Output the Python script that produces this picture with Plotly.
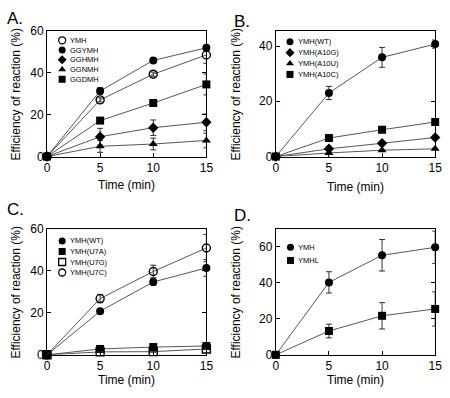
import plotly.graph_objects as go

# ---------------- data ----------------
time = [0, 5, 10, 15]

# Panel A
a_names = ["YMH", "GGYMH", "GGHMH", "GGNMH", "GGDMH"]
a_ymh = [0, 27.1, 39.4, 48.6]
a_ggymh = [0, 31.4, 46.0, 52.0]
a_gghmh = [0, 9.5, 13.8, 16.4]
a_ggnmh = [0, 4.9, 6.0, 7.7]
a_ggdmh = [0, 17.2, 25.6, 34.5]
a_ymh_err = [0, 1.0, 1.0, 4.0]
a_ggymh_err = [0, 1.5, 1.0, 1.0]
a_gghmh_err = [0, 4.0, 3.7, 4.0]
a_ggnmh_err = [0, 2.9, 2.8, 3.5]
a_ggdmh_err = [0, 1.0, 1.0, 5.0]

# Panel B
b_names = ["YMH(WT)", "YMH(A10G)", "YMH(A10U)", "YMH(A10C)"]
b_wt = [0, 23.0, 35.9, 40.7]
b_a10g = [0, 2.8, 4.8, 6.9]
b_a10u = [0, 1.3, 2.3, 2.8]
b_a10c = [0, 6.7, 9.7, 12.5]
b_wt_err = [0, 2.4, 3.6, 1.5]
b_a10g_err = [0, 0.5, 0.5, 0.5]
b_a10u_err = [0, 0.3, 0.3, 0.3]
b_a10c_err = [0, 0.5, 0.5, 0.5]

# Panel C
c_names = ["YMH(WT)", "YMH(U7A)", "YMH(U7G)", "YMH(U7C)"]
c_wt = [0, 20.8, 34.7, 41.4]
c_u7a = [0, 2.8, 3.7, 4.2]
c_u7g = [0, 1.4, 1.5, 2.8]
c_u7c = [0, 26.8, 39.7, 50.9]
c_wt_err = [0, 1.0, 1.5, 4.0]
c_u7a_err = [0, 0.3, 0.3, 0.3]
c_u7g_err = [0, 0.3, 0.3, 0.3]
c_u7c_err = [0, 2.0, 3.0, 6.5]

# Panel D
d_names = ["YMH", "YMHL"]
d_ymh = [0, 40.1, 55.1, 59.5]
d_ymhl = [0, 13.2, 21.6, 25.4]
d_ymh_err = [0, 5.9, 8.7, 9.0]
d_ymhl_err = [0, 3.8, 7.3, 9.5]

x_ticks = [0, 5, 10, 15]
a_yticks = [0, 20, 40, 60]
b_yticks = [0, 20, 40]
c_yticks = [0, 20, 40, 60]
d_yticks = [0, 20, 40, 60]

# ---------------- styling ----------------
FONT = "Liberation Sans, Arial, Helvetica, sans-serif"
LINE_COL = "#444444"
BLACK = "#000000"
W, H = 450, 398

STY = {
    "fc": "circle",
    "oc": "circle-open",
    "dm": "diamond",
    "tr": "triangle-up",
    "sq": "square",
    "os": "square-open",
}

# pixel geometry of each panel box (left, right, top, bottom) and legend layout
panels = [
    dict(key="A", xa="x", ya="y", box=(45, 208, 25, 155),
         yr=[0, 60], yt=a_yticks, label="A.", lx=2, ly=12,
         series=[(a_names[0], a_ymh, a_ymh_err, "oc"),
                 (a_names[1], a_ggymh, a_ggymh_err, "fc"),
                 (a_names[2], a_gghmh, a_gghmh_err, "dm"),
                 (a_names[3], a_ggnmh, a_ggnmh_err, "tr"),
                 (a_names[4], a_ggdmh, a_ggdmh_err, "sq")],
         leg_px=60.5, leg_tx=68, leg_y0=34.5, leg_dy=10.1,
         xt_y=185, yt_x=13),
    dict(key="B", xa="x2", ya="y2", box=(279, 442, 25, 155),
         yr=[0, 45.4], yt=b_yticks, label="B.", lx=234, ly=15,
         series=[(b_names[0], b_wt, b_wt_err, "fc"),
                 (b_names[1], b_a10g, b_a10g_err, "dm"),
                 (b_names[2], b_a10u, b_a10u_err, "tr"),
                 (b_names[3], b_a10c, b_a10c_err, "sq")],
         leg_px=293.5, leg_tx=301, leg_y0=36, leg_dy=11.3,
         xt_y=187, yt_x=238),
    dict(key="C", xa="x3", ya="y3", box=(45, 208, 230, 360.5),
         yr=[0, 60], yt=c_yticks, label="C.", lx=2, ly=210,
         series=[(c_names[0], c_wt, c_wt_err, "fc"),
                 (c_names[1], c_u7a, c_u7a_err, "sq"),
                 (c_names[2], c_u7g, c_u7g_err, "os"),
                 (c_names[3], c_u7c, c_u7c_err, "oc")],
         leg_px=60.5, leg_tx=68, leg_y0=242.5, leg_dy=10.9,
         xt_y=387, yt_x=13),
    dict(key="D", xa="x4", ya="y4", box=(279, 442, 230, 360.5),
         yr=[0, 69.7], yt=d_yticks, label="D.", lx=234, ly=216,
         series=[(d_names[0], d_ymh, d_ymh_err, "fc"),
                 (d_names[1], d_ymhl, d_ymhl_err, "sq")],
         leg_px=294, leg_tx=301, leg_y0=249, leg_dy=13.7,
         xt_y=387, yt_x=238),
]

fig = go.Figure()
annotations = []
layout = {}


def px_x(v):
    return v / W


def px_y(v):
    return 1 - v / H


# legend key positions (pixel layout space)
key_x, key_y, key_sym = [], [], []

for i, p in enumerate(panels):
    suffix = "" if i == 0 else str(i + 1)
    l, r, t, b = p["box"]
    for name, vals, err, st in p["series"]:
        sym = STY[st]
        is_open = "open" in sym
        fig.add_trace(go.Scatter(
            x=time, y=vals, name=name, mode="lines+markers",
            xaxis=p["xa"], yaxis=p["ya"], showlegend=False, cliponaxis=False,
            line=dict(color=LINE_COL, width=0.9),
            marker=dict(symbol=sym, size=8, color=BLACK,
                        line=dict(color=BLACK, width=1.4 if is_open else 0)),
            error_y=dict(type="data", array=err, visible=True, color=BLACK,
                         thickness=0.8, width=3),
        ))
    layout["xaxis" + suffix] = dict(
        domain=[px_x(l), px_x(r)], anchor=p["ya"], range=[0, 15], tickvals=x_ticks,
        ticks="inside", ticklen=4, tickwidth=1, tickcolor=BLACK,
        showline=True, linecolor=BLACK, linewidth=1, mirror=True,
        showgrid=False, zeroline=False, ticklabeloverflow="allow",
        tickfont=dict(family=FONT, size=12, color=BLACK),
    )
    layout["yaxis" + suffix] = dict(
        domain=[px_y(b), px_y(t)], anchor=p["xa"], range=p["yr"], tickvals=p["yt"],
        ticks="inside", ticklen=4, tickwidth=1, tickcolor=BLACK,
        showline=True, linecolor=BLACK, linewidth=1, mirror="ticks",
        showgrid=False, zeroline=False, ticklabeloverflow="allow",
        tickfont=dict(family=FONT, size=12, color=BLACK),
    )
    # panel label
    annotations.append(dict(text=p["label"], x=px_x(p["lx"]), y=px_y(p["ly"]),
                            xref="paper", yref="paper", xanchor="left", yanchor="middle",
                            showarrow=False, font=dict(family=FONT, size=17, color=BLACK)))
    # axis titles
    annotations.append(dict(text="Time (min)", x=px_x((l + r) / 2), y=px_y(p["xt_y"]),
                            xref="paper", yref="paper",
                            xanchor="center", yanchor="middle", showarrow=False,
                            font=dict(family=FONT, size=12, color=BLACK)))
    annotations.append(dict(text="Efficiency of reaction (%)", x=px_x(p["yt_x"]),
                            y=px_y((t + b) / 2), xref="paper", yref="paper", textangle=-90,
                            xanchor="center", yanchor="middle", showarrow=False,
                            font=dict(family=FONT, size=12, color=BLACK)))
    # legend rows
    for j, (name, vals, err, st) in enumerate(p["series"]):
        ypx = p["leg_y0"] + j * p["leg_dy"]
        key_x.append(p["leg_px"])
        key_y.append(ypx)
        key_sym.append(STY[st])
        annotations.append(dict(text=name, x=px_x(p["leg_tx"]), y=px_y(ypx),
                                xref="paper", yref="paper", xanchor="left", yanchor="middle",
                                height=9, borderpad=0,
                                showarrow=False, font=dict(family=FONT, size=7.5, color=BLACK)))

# legend keys drawn on a hidden full-page overlay axis in pixel units
fig.add_trace(go.Scatter(
    x=key_x, y=key_y, mode="markers", xaxis="x5", yaxis="y5",
    showlegend=False, hoverinfo="skip", cliponaxis=False,
    marker=dict(symbol=key_sym, size=7, color=BLACK,
                line=dict(color=BLACK, width=[1.3 if "open" in s else 0 for s in key_sym])),
))
layout["xaxis5"] = dict(domain=[0, 1], range=[0, W], visible=False, anchor="y5",
                        fixedrange=True)
layout["yaxis5"] = dict(domain=[0, 1], range=[H, 0], visible=False, anchor="x5",
                        fixedrange=True)

fig.update_layout(
    width=W, height=H, margin=dict(l=0, r=0, t=0, b=0),
    paper_bgcolor="white", plot_bgcolor="rgba(0,0,0,0)", showlegend=False,
    annotations=annotations, **layout,
)

fig.write_html("out.html", config={"displayModeBar": False},
               post_script="document.body.style.margin='0';")
